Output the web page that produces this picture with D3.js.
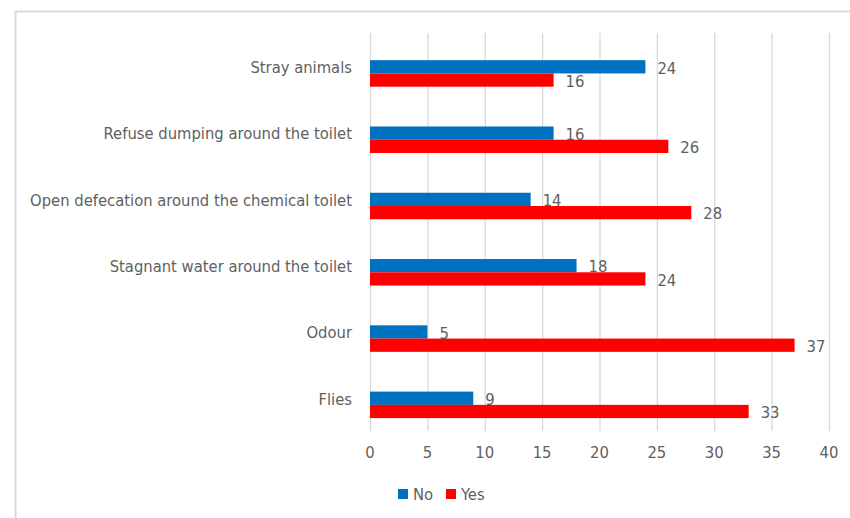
<!DOCTYPE html>
<html>
<head>
<meta charset="utf-8">
<script src="https://cdn.jsdelivr.net/npm/d3@7"></script>
<style>
  html, body { margin: 0; padding: 0; background: #fff; }
  svg { display: block; }
  text { font-family: "Liberation Sans Narrow", "DejaVu Sans Condensed", "Open Sans", sans-serif; fill: #5f5f5f; }
</style>
</head>
<body>
<svg id="chart" width="850" height="518"></svg>
<script>
const categories = [
  "Stray animals",
  "Refuse dumping around the toilet",
  "Open defecation around the chemical toilet",
  "Stagnant water around the toilet",
  "Odour",
  "Flies"
];
const seriesNames = ["No", "Yes"];
const noValues = [24, 16, 14, 18, 5, 9];
const yesValues = [16, 26, 28, 24, 37, 33];
const xTicks = [0, 5, 10, 15, 20, 25, 30, 35, 40];
const colors = { No: "#0070C0", Yes: "#FF0000" };

const svg = d3.select("#chart");

// outer border
svg.append("rect")
  .attr("x", 15.5).attr("y", 11.5)
  .attr("width", 1000).attr("height", 1000)
  .attr("fill", "none").attr("stroke", "#d9d9d9").attr("stroke-width", 2);

const x = d3.scaleLinear().domain([0, 40]).range([370, 829]);
const y = d3.scaleBand().domain(categories).range([40.3, 438]).paddingInner(0.6).paddingOuter(0.3);
const ySub = d3.scaleBand().domain(seriesNames).range([0, y.bandwidth()]);

const gridTop = 33, gridBottom = 431;

// gridlines
svg.append("g").selectAll("line").data(xTicks).join("line")
  .attr("x1", d => x(d) + 0.5).attr("x2", d => x(d) + 0.5)
  .attr("y1", gridTop).attr("y2", gridBottom)
  .attr("stroke", "#d9d9d9").attr("stroke-width", 1.3);

// x tick labels
svg.append("g").selectAll("text").data(xTicks).join("text")
  .attr("x", d => x(d)).attr("y", 458)
  .attr("text-anchor", "middle")
  .style("font-size", "16.5px")
  .text(d => d);

const rows = categories.map((c, i) => ({ c, No: noValues[i], Yes: yesValues[i] }));

const groups = svg.append("g").selectAll("g").data(rows).join("g")
  .attr("transform", d => `translate(0,${y(d.c)})`);

groups.selectAll("rect").data(d => seriesNames.map(s => ({ s, v: d[s] }))).join("rect")
  .attr("x", x(0))
  .attr("y", d => ySub(d.s))
  .attr("width", d => x(d.v) - x(0))
  .attr("height", ySub.bandwidth())
  .attr("fill", d => colors[d.s]);

groups.selectAll("text.val").data(d => seriesNames.map(s => ({ s, v: d[s] }))).join("text")
  .attr("class", "val")
  .attr("x", d => x(d.v) + 12)
  .attr("y", d => ySub(d.s) + ySub.bandwidth() / 2 + 1)
  .attr("dy", "0.35em")
  .style("font-size", "16.5px")
  .text(d => d.v);

// category labels
svg.append("g").selectAll("text").data(categories).join("text")
  .attr("x", 352)
  .attr("y", d => y(d) + y.bandwidth() / 2 - 6)
  .attr("dy", "0.35em")
  .attr("text-anchor", "end")
  .style("font-size", "16.45px")
  .text(d => d);

// legend
const legend = svg.append("g");
const legendItems = [{ s: "No", x: 398 }, { s: "Yes", x: 446 }];
legendItems.forEach(it => {
  legend.append("rect").attr("x", it.x).attr("y", 489).attr("width", 10).attr("height", 10).attr("fill", colors[it.s]);
  legend.append("text").attr("x", it.x + 15).attr("y", 494).attr("dy", "0.35em")
    .style("font-size", "16.5px").text(it.s);
});
</script>
</body>
</html>
